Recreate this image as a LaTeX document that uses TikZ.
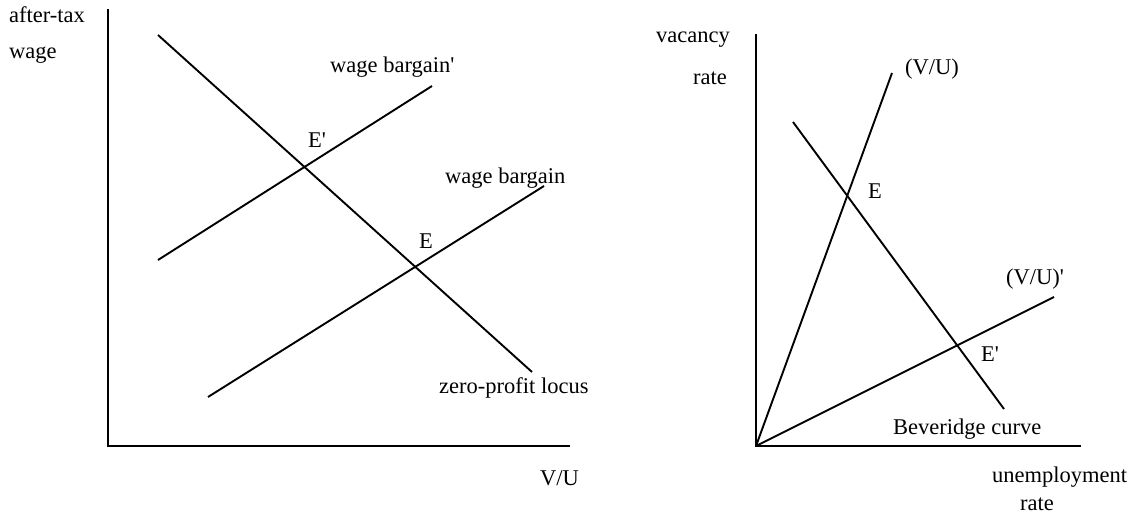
\documentclass[tikz,border=0pt]{standalone}
\usepackage{fontspec}
\setmainfont{Liberation Serif}[Ligatures=TeXOff]
\begin{document}
\begin{tikzpicture}[x=1pt,y=-1pt,
  axis/.style={line width=2.3pt,line cap=rect},
  curve/.style={line width=1.9pt},
  lbl/.style={inner sep=0pt,anchor=base west,font=\fontsize{22.5}{27}\selectfont}]
\useasboundingbox (0,0) rectangle (1135,513);
% ---------- left panel ----------
\coordinate (LO) at (108,446);
\coordinate (LY) at (108,10);
\coordinate (LX) at (569,446);
\draw[axis] (LY) -- (LO) -- (LX);
\coordinate (zp1) at (158,35);
\coordinate (zp2) at (532,372);
\draw[curve] (zp1) -- (zp2);
\coordinate (wbp1) at (158,260);
\coordinate (wbp2) at (432,86);
\draw[curve] (wbp1) -- (wbp2);
\coordinate (wb1) at (208,397);
\coordinate (wb2) at (544,186);
\draw[curve] (wb1) -- (wb2);
\node[lbl] (aftertax) at (9,23) {after-tax};
\node[lbl] (wage) at (9,59) {wage};
\node[lbl] (wbpl) at (330,73) {wage bargain'};
\node[lbl] (wbl) at (445,184) {wage bargain};
\node[lbl] (zpl) at (439,393) {zero-profit locus};
\node[lbl] (vu) at (540,485) {V/U};
\node[lbl] (Epl) at (308,148) {E'};
\node[lbl] (El) at (419,248) {E};
% ---------- right panel ----------
\coordinate (RO) at (756,446);
\coordinate (RY) at (756,35);
\coordinate (RX) at (1080,446);
\draw[axis] (RY) -- (RO) -- (RX);
\coordinate (vu1) at (892,73);
\draw[curve] (RO) -- (vu1);
\coordinate (vup1) at (1054,297);
\draw[curve] (RO) -- (vup1);
\coordinate (bc1) at (793,122);
\coordinate (bc2) at (1004,409);
\draw[curve] (bc1) -- (bc2);
\node[lbl,anchor=base east] (vac) at (730,43) {vacancy};
\node[lbl,anchor=base east] (vrate) at (727,85) {rate};
\node[lbl] (vul) at (905,75) {(V/U)};
\node[lbl] (vupl) at (1006,284) {(V/U)'};
\node[lbl] (ER) at (868,199) {E};
\node[lbl] (EpR) at (981,361) {E'};
\node[lbl] (bcl) at (893,434) {Beveridge curve};
\node[lbl] (unemp) at (992,482) {unemployment};
\node[lbl,anchor=base] (urate) at (1037,510) {rate};
\end{tikzpicture}
\end{document}
